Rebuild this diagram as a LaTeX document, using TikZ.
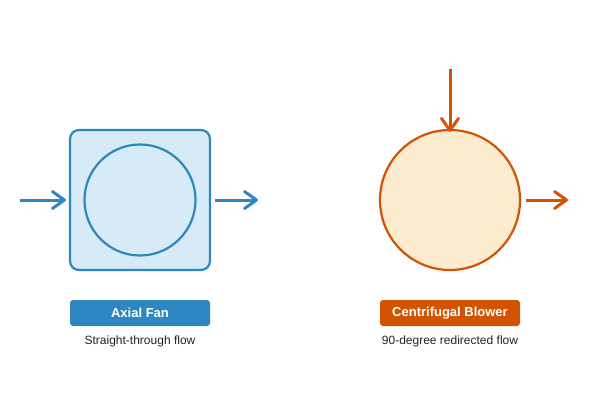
\documentclass[tikz,border=0pt]{standalone}
\usepackage{fontspec}
\setmainfont{Liberation Sans}
\usetikzlibrary{arrows.meta}
\definecolor{bstroke}{HTML}{2E86C1}
\definecolor{bfill}{HTML}{D6EAF8}
\definecolor{ostroke}{HTML}{D35400}
\definecolor{ofill}{HTML}{FDEBD0}
\definecolor{subtxt}{HTML}{222222}
\tikzset{
  flow/.style={line width=3pt, -{Straight Barb[length=12pt,width=17pt,line width=3pt,round]}},
  tag/.style={rounded corners=3pt, minimum width=140pt, minimum height=26pt, inner sep=0pt, text=white, font=\fontsize{13}{15}\selectfont\bfseries},
  sub/.style={text=subtxt, font=\fontsize{12}{14}\selectfont}
}
\begin{document}
\begin{tikzpicture}[x=1pt,y=-1pt]
\useasboundingbox (0,0) rectangle (600,400);
% Axial fan
\node[draw=bstroke, fill=bfill, line width=2.2pt, rounded corners=9pt, minimum size=140pt, inner sep=0pt] (box) at (140,200) {};
\node[draw=bstroke, line width=2.2pt, circle, minimum size=111pt, inner sep=0pt] (rot) at (140,200) {};
\coordinate (ain) at (20,200);
\coordinate (aout) at (258,200);
\draw[flow, bstroke] (ain) -- ([xshift=-3pt]box.west);
\draw[flow, bstroke] ([xshift=4pt]box.east) -- (aout);
\node[tag, fill=bstroke] (tagA) at (140,313) {Axial Fan};
\node[sub] (subA) at (140,341) {Straight-through flow};
% Centrifugal blower
\node[draw=ostroke, fill=ofill, line width=2.2pt, circle, minimum size=140pt, inner sep=0pt] (bl) at (450,200) {};
\coordinate (bin) at (450,69);
\coordinate (bout) at (568,200);
\draw[flow, ostroke] (bin) -- ([yshift=-3pt]bl.north);
\draw[flow, ostroke] ([xshift=5pt]bl.east) -- (bout);
\node[tag, fill=ostroke] (tagB) at (450,313) {Centrifugal Blower};
\node[sub] (subB) at (450,341) {90-degree redirected flow};
\end{tikzpicture}
\end{document}
